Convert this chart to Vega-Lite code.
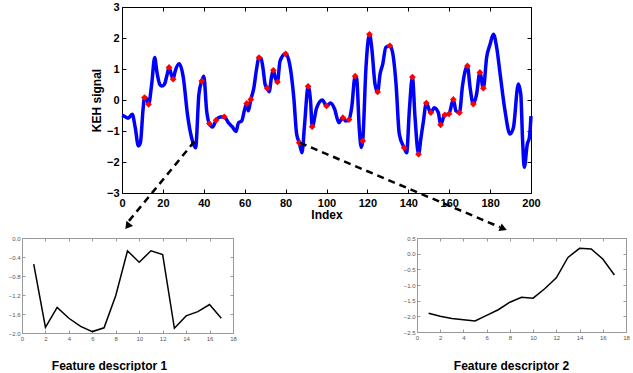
{
  "$schema": "https://vega.github.io/schema/vega-lite/v6.json",
  "background": "white",
  "padding": {"left": 8, "top": 1, "right": 0, "bottom": 0},
  "config": {
    "view": {"stroke": null},
    "font": "Liberation Sans",
    "axis": {"grid": false, "labelFlush": false, "labelOverlap": false, "labelFont": "Liberation Sans", "titleFont": "Liberation Sans"}
  },
  "datasets": {
    "signal": [
      {"index": 0, "value": -0.5}, {"index": 1, "value": -0.52}, {"index": 3, "value": -0.59}, {"index": 5, "value": -0.46},
      {"index": 6.5, "value": -0.9}, {"index": 8, "value": -1.48}, {"index": 9, "value": -1.38}, {"index": 10.3, "value": -0.3},
      {"index": 11, "value": 0.08}, {"index": 12, "value": 0.05}, {"index": 13, "value": -0.14}, {"index": 14.5, "value": 0.5},
      {"index": 16, "value": 1.37}, {"index": 17, "value": 0.93}, {"index": 18.5, "value": 0.5}, {"index": 19.5, "value": 0.45},
      {"index": 20.7, "value": 0.5}, {"index": 22, "value": 0.8}, {"index": 23, "value": 1.05}, {"index": 24, "value": 0.85},
      {"index": 25, "value": 0.67}, {"index": 26, "value": 0.93}, {"index": 28, "value": 1.17}, {"index": 30, "value": 0.72},
      {"index": 32, "value": -0.46}, {"index": 34, "value": -1.21}, {"index": 36, "value": -1.54}, {"index": 37.6, "value": 0.18},
      {"index": 39, "value": 0.61}, {"index": 40, "value": 0.77}, {"index": 41.4, "value": -0.35}, {"index": 42.7, "value": -0.76},
      {"index": 44.3, "value": -0.87}, {"index": 46, "value": -0.65}, {"index": 48, "value": -0.55}, {"index": 50, "value": -0.54},
      {"index": 52, "value": -0.73}, {"index": 54, "value": -0.87}, {"index": 55.7, "value": -1.02}, {"index": 57, "value": -0.73},
      {"index": 58.5, "value": -0.68}, {"index": 60, "value": -0.3}, {"index": 61, "value": -0.11}, {"index": 61.8, "value": -0.35},
      {"index": 63, "value": 0.02}, {"index": 64.5, "value": 0.4}, {"index": 65.8, "value": 1.0}, {"index": 67, "value": 1.37},
      {"index": 68, "value": 1.34}, {"index": 69, "value": 1.0}, {"index": 70, "value": 0.5}, {"index": 71, "value": 0.38},
      {"index": 72, "value": 0.27}, {"index": 73, "value": 0.7}, {"index": 74, "value": 0.96}, {"index": 75, "value": 0.7},
      {"index": 76, "value": 0.58}, {"index": 77.3, "value": 1.26}, {"index": 80, "value": 1.49}, {"index": 82, "value": 1.15},
      {"index": 84, "value": 0.08}, {"index": 85.4, "value": -1.1}, {"index": 86.7, "value": -1.38}, {"index": 88, "value": -1.7},
      {"index": 89.3, "value": -0.78}, {"index": 91, "value": 0.44}, {"index": 92.2, "value": -0.03}, {"index": 93, "value": -0.86},
      {"index": 95.2, "value": -0.25}, {"index": 98, "value": 0.0}, {"index": 100, "value": -0.19}, {"index": 102, "value": -0.1},
      {"index": 104, "value": -0.3}, {"index": 106, "value": -0.73}, {"index": 108, "value": -0.57}, {"index": 109.4, "value": -0.68},
      {"index": 111, "value": -0.63}, {"index": 112.3, "value": -0.25}, {"index": 114, "value": 0.77}, {"index": 114.8, "value": 0.67},
      {"index": 116, "value": -0.89}, {"index": 117, "value": -1.53}, {"index": 117.7, "value": -1.32}, {"index": 119.3, "value": 1.04},
      {"index": 121, "value": 2.12}, {"index": 122.1, "value": 1.7}, {"index": 123.7, "value": 0.52}, {"index": 125, "value": 0.26},
      {"index": 126.2, "value": 0.84}, {"index": 127.5, "value": 1.16}, {"index": 129, "value": 1.7}, {"index": 131, "value": 1.75},
      {"index": 132.3, "value": 1.54}, {"index": 134, "value": 0.52}, {"index": 135.6, "value": -1.1}, {"index": 138, "value": -1.54},
      {"index": 139.2, "value": -1.7}, {"index": 140.5, "value": -0.35}, {"index": 142, "value": 0.74}, {"index": 143.3, "value": -0.57},
      {"index": 145, "value": -1.75}, {"index": 146.2, "value": -1.22}, {"index": 147.4, "value": -0.68}, {"index": 148.8, "value": -0.1},
      {"index": 151, "value": -0.41}, {"index": 152.7, "value": -0.25}, {"index": 154.7, "value": -0.41}, {"index": 155.8, "value": -0.8},
      {"index": 157.8, "value": -0.48}, {"index": 159.9, "value": -0.45}, {"index": 162, "value": 0.02}, {"index": 163.3, "value": -0.35},
      {"index": 165, "value": -0.41}, {"index": 166.5, "value": 0.45}, {"index": 168.9, "value": 1.1}, {"index": 170.2, "value": 0.41},
      {"index": 171.8, "value": -0.13}, {"index": 173.4, "value": 0.19}, {"index": 175, "value": 0.89}, {"index": 176.7, "value": 0.38},
      {"index": 178.3, "value": 1.37}, {"index": 180, "value": 1.8}, {"index": 181.6, "value": 2.12}, {"index": 183.2, "value": 1.7},
      {"index": 184.9, "value": 0.84}, {"index": 187.3, "value": -0.35}, {"index": 189.7, "value": -1.1}, {"index": 191.4, "value": -0.89},
      {"index": 193.8, "value": 0.52}, {"index": 195, "value": 0.19}, {"index": 195.9, "value": -1.32}, {"index": 196.7, "value": -2.17},
      {"index": 198.2, "value": -1.42}, {"index": 199.2, "value": -1.22}, {"index": 200, "value": -0.52}
    ],
    "markers": [
      {"index": 11, "value": 0.08}, {"index": 13, "value": -0.14}, {"index": 23, "value": 1.05}, {"index": 25, "value": 0.67},
      {"index": 39, "value": 0.61}, {"index": 42.7, "value": -0.76}, {"index": 46, "value": -0.65}, {"index": 50, "value": -0.54},
      {"index": 61, "value": -0.11}, {"index": 63, "value": 0.02}, {"index": 67, "value": 1.37}, {"index": 71, "value": 0.38},
      {"index": 74, "value": 0.96}, {"index": 76, "value": 0.58}, {"index": 80, "value": 1.49}, {"index": 86.7, "value": -1.38},
      {"index": 91, "value": 0.44}, {"index": 93, "value": -0.86}, {"index": 100, "value": -0.19}, {"index": 108, "value": -0.57},
      {"index": 111, "value": -0.63}, {"index": 114, "value": 0.77}, {"index": 117.7, "value": -1.32}, {"index": 121, "value": 2.12},
      {"index": 125, "value": 0.26}, {"index": 131, "value": 1.75}, {"index": 138, "value": -1.54}, {"index": 142, "value": 0.74},
      {"index": 145, "value": -1.75}, {"index": 148.8, "value": -0.1}, {"index": 151, "value": -0.41}, {"index": 155.8, "value": -0.8},
      {"index": 157.8, "value": -0.48}, {"index": 159.9, "value": -0.45}, {"index": 162, "value": 0.02}, {"index": 165, "value": -0.41},
      {"index": 168.9, "value": 1.1}, {"index": 171.8, "value": -0.13}, {"index": 175, "value": 0.89}, {"index": 176.7, "value": 0.38}
    ],
    "arrows": [
      {"arrow": "a", "index": 36.5, "value": -1.25}, {"arrow": "a", "index": 3.4, "value": -3.9},
      {"arrow": "b", "index": 87, "value": -1.38}, {"arrow": "b", "index": 184.8, "value": -4.1}
    ],
    "heads": [
      {"arrow": "a", "index": 2.7, "value": -4.07},
      {"arrow": "b", "index": 186.5, "value": -4.15}
    ],
    "fd1": [
      {"k": 1, "v": -0.55}, {"k": 2, "v": -1.88}, {"k": 3, "v": -1.46}, {"k": 4, "v": -1.69}, {"k": 5, "v": -1.86},
      {"k": 6, "v": -1.97}, {"k": 7, "v": -1.89}, {"k": 8, "v": -1.21}, {"k": 9, "v": -0.27}, {"k": 10, "v": -0.51},
      {"k": 11, "v": -0.27}, {"k": 12, "v": -0.35}, {"k": 13, "v": -1.9}, {"k": 14, "v": -1.64}, {"k": 15, "v": -1.55},
      {"k": 16, "v": -1.4}, {"k": 17, "v": -1.69}
    ],
    "fd2": [
      {"k": 1, "v": -1.9}, {"k": 2, "v": -2.0}, {"k": 3, "v": -2.07}, {"k": 4, "v": -2.11}, {"k": 5, "v": -2.15},
      {"k": 6, "v": -1.97}, {"k": 7, "v": -1.79}, {"k": 8, "v": -1.55}, {"k": 9, "v": -1.39}, {"k": 10, "v": -1.42},
      {"k": 11, "v": -1.12}, {"k": 12, "v": -0.77}, {"k": 13, "v": -0.12}, {"k": 14, "v": 0.17}, {"k": 15, "v": 0.15},
      {"k": 16, "v": -0.17}, {"k": 17, "v": -0.68}
    ],
    "empty": []
  },
  "vconcat": [
    {
      "hconcat": [
        {"width": 100, "height": 186, "data": {"name": "empty"}, "mark": {"type": "point", "opacity": 0}, "encoding": {}},
        {
          "width": 409,
          "height": 186,
          "layer": [
            {
              "data": {"name": "signal"},
              "mark": {"type": "line", "color": "#0000ff", "strokeWidth": 3.5, "interpolate": "monotone"},
              "encoding": {
                "x": {"field": "index", "type": "quantitative", "scale": {"domain": [0, 200], "nice": false},
                  "axis": {"orient": "bottom", "values": [0, 20, 40, 60, 80, 100, 120, 140, 160, 180, 200], "title": "Index",
                    "domainColor": "#000", "tickColor": "#000", "tickSize": -4, "labelPadding": 8,
                    "labelFontWeight": "bold", "labelFontSize": 11, "labelColor": "#000",
                    "titleFontSize": 12, "titleFontWeight": "bold", "titleColor": "#000", "titlePadding": 1}},
                "y": {"field": "value", "type": "quantitative", "scale": {"domain": [-3, 3], "nice": false},
                  "axis": {"orient": "left", "values": [-3, -2, -1, 0, 1, 2, 3], "title": "KEH signal",
                    "domainColor": "#000", "tickColor": "#000", "tickSize": -4, "labelPadding": 7,
                    "labelFontWeight": "bold", "labelFontSize": 11, "labelColor": "#000",
                    "titleFontSize": 12, "titleFontWeight": "bold", "titleColor": "#000", "titlePadding": 3}}
              }
            },
            {
              "data": {"name": "signal"},
              "mark": {"type": "line", "opacity": 0},
              "encoding": {
                "x": {"field": "index", "type": "quantitative",
                  "axis": {"orient": "top", "values": [0, 20, 40, 60, 80, 100, 120, 140, 160, 180, 200], "labels": false, "title": null,
                    "domainColor": "#000", "tickColor": "#000", "tickSize": -4}},
                "y": {"field": "value", "type": "quantitative",
                  "axis": {"orient": "right", "values": [-3, -2, -1, 0, 1, 2, 3], "labels": false, "title": null,
                    "domainColor": "#000", "tickColor": "#000", "tickSize": -4}}
              }
            },
            {
              "data": {"name": "markers"},
              "mark": {"type": "point", "shape": "diamond", "filled": true, "color": "#ff0000", "size": 45, "opacity": 1},
              "encoding": {
                "x": {"field": "index", "type": "quantitative", "axis": null},
                "y": {"field": "value", "type": "quantitative", "axis": null}
              }
            },
            {
              "data": {"name": "arrows"},
              "mark": {"type": "line", "color": "#000", "strokeWidth": 2.5, "strokeDash": [7, 5], "clip": false},
              "encoding": {
                "x": {"field": "index", "type": "quantitative", "axis": null},
                "y": {"field": "value", "type": "quantitative", "axis": null},
                "detail": {"field": "arrow"}
              }
            },
            {
              "data": {"name": "heads"},
              "transform": [{"filter": "datum.arrow == 'a'"}],
              "mark": {"type": "point", "shape": "triangle-up", "filled": true, "color": "#000", "size": 70, "opacity": 1, "angle": 218, "clip": false},
              "encoding": {
                "x": {"field": "index", "type": "quantitative", "axis": null},
                "y": {"field": "value", "type": "quantitative", "axis": null}
              }
            },
            {
              "data": {"name": "heads"},
              "transform": [{"filter": "datum.arrow == 'b'"}],
              "mark": {"type": "point", "shape": "triangle-up", "filled": true, "color": "#000", "size": 70, "opacity": 1, "angle": 113, "clip": false},
              "encoding": {
                "x": {"field": "index", "type": "quantitative", "axis": null},
                "y": {"field": "value", "type": "quantitative", "axis": null}
              }
            }
          ]
        }
      ],
      "spacing": 0,
      "bounds": "flush"
    },
    {
      "hconcat": [
        {
          "width": 211,
          "height": 95,
          "data": {"name": "fd1"},
          "layer": [
            {
              "mark": {"type": "line", "color": "#000", "strokeWidth": 1.5},
              "encoding": {
                "x": {"field": "k", "type": "quantitative", "scale": {"domain": [0, 18], "nice": false},
                  "axis": {"orient": "bottom", "values": [0, 2, 4, 6, 8, 10, 12, 14, 16, 18], "title": "Feature descriptor 1",
                    "domainColor": "#999", "tickColor": "#999", "tickSize": -3, "labelPadding": 5,
                    "labelFontSize": 6, "labelColor": "#555",
                    "titleFontSize": 12, "titleFontWeight": "bold", "titleColor": "#000",
                    "titleX": 87, "titleY": 36, "titleAlign": "center", "titleBaseline": "alphabetic"}},
                "y": {"field": "v", "type": "quantitative", "scale": {"domain": [-2, 0], "nice": false},
                  "axis": {"orient": "left", "values": [-2, -1.6, -1.2, -0.8, -0.4, 0], "title": null,
                    "domainColor": "#999", "tickColor": "#999", "tickSize": -3, "labelPadding": 5,
                    "labelFontSize": 6, "labelColor": "#555"}}
              }
            },
            {
              "mark": {"type": "line", "opacity": 0},
              "encoding": {
                "x": {"field": "k", "type": "quantitative",
                  "axis": {"orient": "top", "values": [0, 2, 4, 6, 8, 10, 12, 14, 16, 18], "labels": false, "title": null,
                    "domainColor": "#999", "tickColor": "#999", "tickSize": -3}},
                "y": {"field": "v", "type": "quantitative",
                  "axis": {"orient": "right", "values": [-2, -1.6, -1.2, -0.8, -0.4, 0], "labels": false, "title": null,
                    "domainColor": "#999", "tickColor": "#999", "tickSize": -3}}
              }
            }
          ]
        },
        {
          "width": 209,
          "height": 94,
          "data": {"name": "fd2"},
          "layer": [
            {
              "mark": {"type": "line", "color": "#000", "strokeWidth": 1.5},
              "encoding": {
                "x": {"field": "k", "type": "quantitative", "scale": {"domain": [0, 18], "nice": false},
                  "axis": {"orient": "bottom", "values": [0, 2, 4, 6, 8, 10, 12, 14, 16, 18], "title": "Feature descriptor 2",
                    "domainColor": "#999", "tickColor": "#999", "tickSize": -3, "labelPadding": 5,
                    "labelFontSize": 6, "labelColor": "#555",
                    "titleFontSize": 12, "titleFontWeight": "bold", "titleColor": "#000",
                    "titleX": 94, "titleY": 37, "titleAlign": "center", "titleBaseline": "alphabetic"}},
                "y": {"field": "v", "type": "quantitative", "scale": {"domain": [-2.5, 0.5], "nice": false},
                  "axis": {"orient": "left", "values": [-2.5, -2, -1.5, -1, -0.5, 0, 0.5], "title": null,
                    "domainColor": "#999", "tickColor": "#999", "tickSize": -3, "labelPadding": 5,
                    "labelFontSize": 6, "labelColor": "#555"}}
              }
            },
            {
              "mark": {"type": "line", "opacity": 0},
              "encoding": {
                "x": {"field": "k", "type": "quantitative",
                  "axis": {"orient": "top", "values": [0, 2, 4, 6, 8, 10, 12, 14, 16, 18], "labels": false, "title": null,
                    "domainColor": "#999", "tickColor": "#999", "tickSize": -3}},
                "y": {"field": "v", "type": "quantitative",
                  "axis": {"orient": "right", "values": [-2.5, -2, -1.5, -1, -0.5, 0, 0.5], "labels": false, "title": null,
                    "domainColor": "#999", "tickColor": "#999", "tickSize": -3}}
              }
            }
          ]
        }
      ],
      "spacing": 184,
      "bounds": "flush"
    }
  ],
  "spacing": 2
}
